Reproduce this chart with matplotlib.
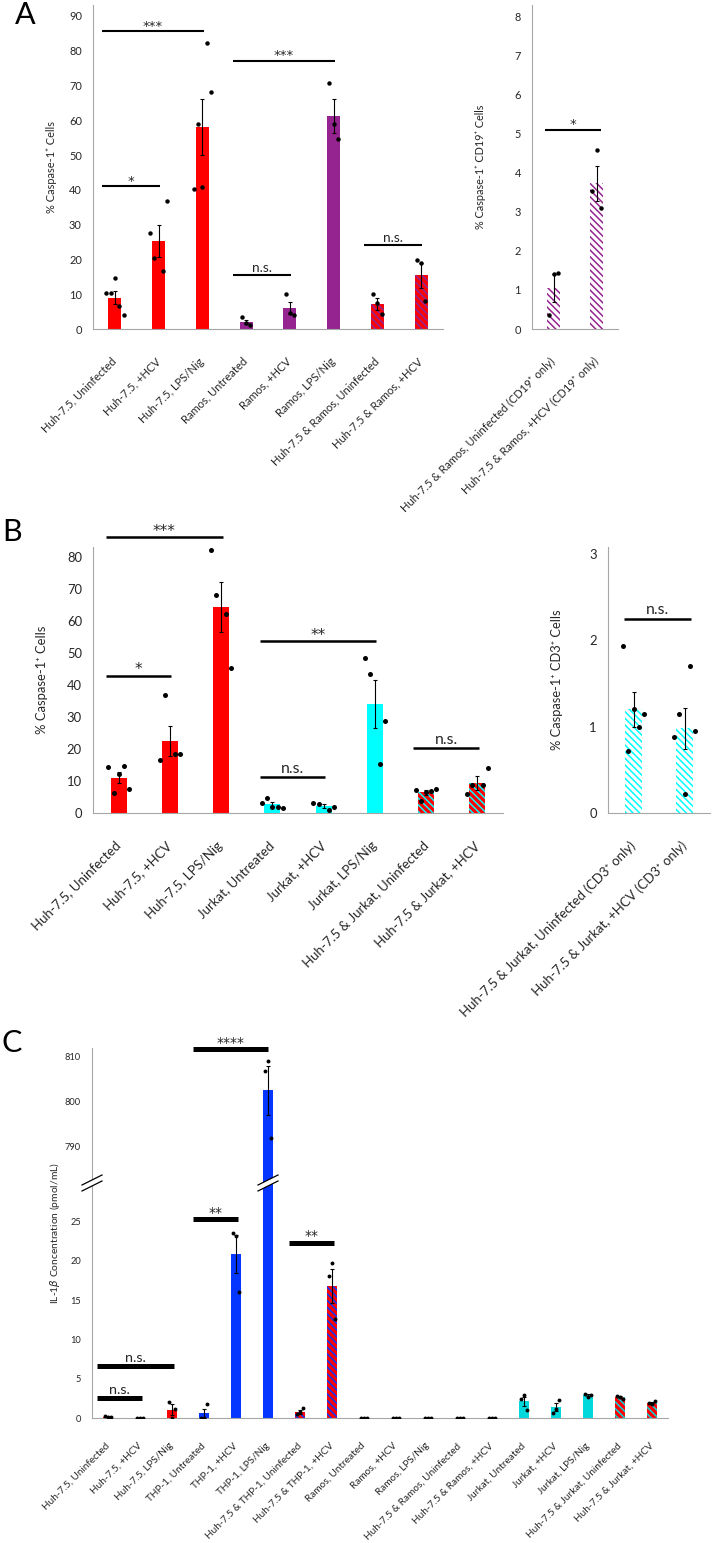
import numpy as np
import matplotlib
matplotlib.use('Agg')
import matplotlib.pyplot as plt
from matplotlib.lines import Line2D
from matplotlib.patches import Polygon

plt.rcParams['font.family'] = ['Lato', 'DejaVu Sans']
plt.rcParams['hatch.linewidth'] = 1.1

RED = '#ff0000'
PURPLE = '#952490'
CYAN = '#00ffff'
CYAN_C = '#00d8dc'
BLUE = '#0536ff'
GRID = '#a6a6a6'
TXT = '#262626'

# ---------------- data: panel A ----------------
a_labels = ['Huh-7.5, Uninfected', 'Huh-7.5, +HCV', 'Huh-7.5, LPS/Nig',
            'Ramos, Untreated', 'Ramos, +HCV', 'Ramos, LPS/Nig',
            'Huh-7.5 & Ramos, Uninfected', 'Huh-7.5 & Ramos, +HCV']
a_means = [9.0, 25.3, 58.0, 1.9, 6.0, 61.3, 7.2, 15.4]
a_sem = [1.8, 4.6, 8.1, 0.6, 1.8, 4.9, 1.8, 3.7]
a_points = [[10.3, 10.3, 14.6, 6.5, 3.9],
            [27.6, 20.3, 16.6, 36.9],
            [40.3, 58.9, 40.8, 82.1, 68.1],
            [3.4, 1.7, 1.2],
            [10.2, 4.6, 4.1],
            [70.8, 58.9, 54.5],
            [10.2, 7.5, 4.3],
            [19.9, 19.0, 8.0]]
a_sig = [(0, 2, 85.5, '***'), (0, 1, 41.0, '*'), (3, 5, 77.0, '***'),
         (3, 4, 15.5, 'n.s.'), (6, 7, 24.0, 'n.s.')]

a2_labels = ['Huh-7.5 & Ramos, Uninfected (CD19\u207a only)',
             'Huh-7.5 & Ramos, +HCV (CD19\u207a only)']
a2_means = [1.05, 3.73]
a2_sem = [0.36, 0.45]
a2_points = [[0.37, 1.40, 1.43], [3.54, 4.57, 3.10]]
a2_sig = [(0, 1, 5.09, '*')]

# ---------------- data: panel B ----------------
b_labels = ['Huh-7.5, Uninfected', 'Huh-7.5, +HCV', 'Huh-7.5, LPS/Nig',
            'Jurkat, Untreated', 'Jurkat, +HCV', 'Jurkat, LPS/Nig',
            'Huh-7.5 & Jurkat, Uninfected', 'Huh-7.5 & Jurkat, +HCV']
b_means = [11.0, 22.5, 64.3, 2.7, 2.2, 34.0, 6.4, 9.4]
b_sem = [1.7, 4.8, 7.7, 0.6, 0.5, 7.5, 0.7, 2.2]
b_points = [[14.4, 6.25, 12.1, 14.8, 7.6],
            [16.5, 36.7, 18.5, 18.3],
            [82.0, 68.0, 62.2, 45.1],
            [3.1, 4.8, 1.9, 1.9, 1.6],
            [3.2, 2.7, 1.0, 1.8],
            [48.4, 43.4, 15.3, 28.75],
            [7.3, 3.9, 6.5, 6.9, 7.6],
            [6.0, 8.75, 8.75, 14.1]]
b_sig = [(0, 2, 86.0, '***'), (0, 1, 42.8, '*'), (3, 5, 53.6, '**'),
         (3, 4, 11.1, 'n.s.'), (6, 7, 20.3, 'n.s.')]

b2_labels = ['Huh-7.5 & Jurkat, Uninfected (CD3\u207a only)',
             'Huh-7.5 & Jurkat, +HCV (CD3\u207a only)']
b2_means = [1.20, 0.98]
b2_sem = [0.20, 0.24]
b2_points = [[1.93, 0.72, 1.20, 1.00, 1.15], [0.88, 1.15, 0.22, 1.70, 0.95]]
b2_sig = [(0, 1, 2.25, 'n.s.')]

# ---------------- data: panel C ----------------
c_labels = ['Huh-7.5, Uninfected', 'Huh-7.5, +HCV', 'Huh-7.5, LPS/Nig',
            'THP-1, Untreated', 'THP-1, +HCV', 'THP-1, LPS/Nig',
            'Huh-7.5 & THP-1, Uninfected', 'Huh-7.5 & THP-1, +HCV',
            'Ramos, Untreated', 'Ramos, +HCV', 'Ramos, LPS/Nig',
            'Huh-7.5 & Ramos, Uninfected', 'Huh-7.5 & Ramos, +HCV',
            'Jurkat, Untreated', 'Jurkat, +HCV', 'Jurkat, LPS/Nig',
            'Huh-7.5 & Jurkat, Uninfected', 'Huh-7.5 & Jurkat, +HCV']
c_means = [0.15, 0.0, 1.07, 0.6, 20.9, 802.5, 0.75, 16.8,
           0.0, 0.0, 0.0, 0.0, 0.0, 2.13, 1.38, 2.9, 2.63, 1.94]
c_sem = [0.07, 0.0, 0.65, 0.55, 2.4, 5.5, 0.25, 2.2,
         0.0, 0.0, 0.0, 0.0, 0.0, 0.6, 0.5, 0.15, 0.12, 0.08]
c_points = [[0.3, 0.1, 0.1], [0, 0, 0], [2.0, 0.0, 1.2], [0, 0, 1.8],
            [23.5, 23.2, 16.0], [806.9, 809.0, 791.7], [0.5, 0.7, 1.3],
            [18.1, 19.7, 12.6], [0, 0, 0], [0, 0, 0], [0, 0, 0], [0, 0, 0],
            [0, 0, 0], [2.46, 2.97, 0.97], [0.68, 1.14, 2.33],
            [3.1, 2.63, 2.97], [2.84, 2.63, 2.42], [1.9, 1.82, 2.1]]
c_sig_top = [(3, 5, 811.7, '****')]
c_sig_bot = [(3, 4, 25.3, '**'), (6, 7, 22.3, '**'),
             (0, 2, 6.6, 'n.s.'), (0, 1, 2.5, 'n.s.')]

HATCH = '\\\\\\\\\\'

W, H = 715, 1543
fig = plt.figure(figsize=(W / 100, H / 100), dpi=100)
renderer = fig.canvas.get_renderer()


def fit(txt, px, family=None):
    # font size (pt) that makes txt about px pixels long
    kw = {'family': family} if family else {}
    t = fig.text(0, 0, txt, fontsize=10, **kw)
    w = t.get_window_extent(renderer).width
    t.remove()
    return 10 * px / w


def rect(l, t, r, b):
    return [l / W, 1 - b / H, (r - l) / W, (b - t) / H]


def draw_bars(ax, means, sem, points, faces, hatches, width, ms=3.2, cap=1.6, clip=False):
    x = np.arange(len(means))
    ax.bar(x, means, width, color=faces, linewidth=0, zorder=2)
    for xi, m, h in zip(x, means, hatches):
        if h:
            ax.bar(xi, m, width, fill=False, edgecolor=h, linewidth=0,
                   hatch=HATCH, zorder=2.5)
    ax.errorbar(x, means, yerr=sem, fmt='none', ecolor='black', elinewidth=0.8,
                capsize=cap, capthick=0.8, zorder=3)
    for xi, pts in zip(x, points):
        n = len(pts)
        slots = np.arange(n) - (n - 1) / 2
        if n % 2 == 0:
            slots = np.where(slots < 0, np.floor(slots), np.ceil(slots))
        ax.plot(xi + 0.1 * slots, pts, 'o', color='black', ms=ms, mew=0,
                zorder=4, clip_on=clip)


def draw_sig(ax, items, lw, fs, star_fs, lo=-0.3, hi=0.03, dy=1.0):
    for i, j, y, txt in items:
        x0, x1 = i + lo, j + hi
        ax.plot([x0, x1], [y, y], color='black', lw=lw, solid_capstyle='butt',
                clip_on=False, zorder=5)
        if '*' in txt:
            ax.annotate(txt, ((x0 + x1) / 2, y), xytext=(0, dy - 2), textcoords='offset points',
                        ha='center', va='bottom', fontsize=star_fs, color=TXT,
                        family='DejaVu Sans', annotation_clip=False)
        else:
            ax.annotate(txt, ((x0 + x1) / 2, y), xytext=(0, dy), textcoords='offset points',
                        ha='center', va='bottom', fontsize=fs, color=TXT,
                        annotation_clip=False)


def style(ax, labels, tick_fs, lab_fs, pad, bottom=True):
    for s in ['top', 'right']:
        ax.spines[s].set_visible(False)
    ax.spines['left'].set_color(GRID)
    ax.spines['bottom'].set_color(GRID)
    ax.spines['bottom'].set_visible(bottom)
    ax.set_xlim(-0.5, len(labels) - 0.5)
    ax.tick_params(axis='y', length=0, pad=8, labelsize=tick_fs, labelcolor=TXT)
    ax.tick_params(axis='x', length=0, pad=pad, labelsize=lab_fs, labelcolor=TXT)
    ax.set_xticks(np.arange(len(labels)))
    if bottom:
        ax.set_xticklabels(labels, rotation=45, ha='right', va='center',
                           rotation_mode='anchor')
    else:
        ax.set_xticklabels([])


fsA_tick = fit('90', 12.7)
fsA_lab = fit('Huh-7.5, Uninfected', 100)
fsA2_lab = fit('Huh-7.5 & Ramos, +HCV (CD19\u207a only)', 188)
fsA_ns = fit('n.s.', 20)
fsA_star = fit('***', 20, 'DejaVu Sans')
fsB_tick = fit('80', 15)
fsB_lab = fit('Huh-7.5, Uninfected', 120)
fsB_ns = fit('n.s.', 23)
fsB_star = fit('***', 23, 'DejaVu Sans')
fsC_tick = fit('810', 16)
fsC_lab = fit('Huh-7.5 & Jurkat, Uninfected', 130)
fsC_ns = fit('n.s.', 21)
fsC_star = fit('****', 28, 'DejaVu Sans')

# ---------------- panel A ----------------
axA = fig.add_axes(rect(93, 5.4, 443, 329))
a_faces = [RED, RED, RED, PURPLE, PURPLE, PURPLE, RED, RED]
a_hatch = [None] * 6 + [PURPLE, PURPLE]
draw_bars(axA, a_means, a_sem, a_points, a_faces, a_hatch, 0.3)
axA.set_ylim(0, 93)
axA.set_yticks(range(0, 91, 10))
style(axA, a_labels, fsA_tick, fsA_lab, 22)
draw_sig(axA, a_sig, 1.5, fsA_ns, fsA_star)
axA.set_ylabel('% Caspase-1\u207a Cells', fontsize=fit('% Caspase-1\u207a Cells', 91), color=TXT)
axA.yaxis.set_label_coords(-0.103, 0.5)

axA2 = fig.add_axes(rect(532, 5.3, 618, 329))
draw_bars(axA2, a2_means, a2_sem, a2_points, ['white', 'white'], [PURPLE, PURPLE], 0.3)
axA2.set_ylim(0, 8.28)
axA2.set_yticks(range(0, 9))
style(axA2, a2_labels, fsA_tick, fsA2_lab, 22)
draw_sig(axA2, a2_sig, 1.5, fsA_ns, fsA_star, lo=-0.2, hi=0.1)
axA2.set_ylabel('% Caspase-1\u207a CD19\u207a Cells',
                fontsize=fit('% Caspase-1\u207a CD19\u207a Cells', 125), color=TXT)
axA2.yaxis.set_label_coords(-0.535, 0.5)

# ---------------- panel B ----------------
axB = fig.add_axes(rect(93, 547, 503, 813))
b_faces = [RED, RED, RED, CYAN, CYAN, CYAN, RED, RED]
b_hatch = [None] * 6 + [CYAN, CYAN]
draw_bars(axB, b_means, b_sem, b_points, b_faces, b_hatch, 0.31, ms=3.6)
axB.set_ylim(0, 83)
axB.set_yticks(range(0, 81, 10))
style(axB, b_labels, fsB_tick, fsB_lab, 22)
draw_sig(axB, b_sig, 1.8, fsB_ns, fsB_star, lo=-0.25, hi=0.03)
axB.set_ylabel('% Caspase-1\u207a Cells', fontsize=fit('% Caspase-1\u207a Cells', 108), color=TXT)
axB.yaxis.set_label_coords(-0.11, 0.5)

axB2 = fig.add_axes(rect(608, 547, 710, 813))
draw_bars(axB2, b2_means, b2_sem, b2_points, ['white', 'white'], [CYAN, CYAN], 0.33, ms=3.6)
axB2.set_ylim(0, 3.08)
axB2.set_yticks(range(0, 4))
style(axB2, b2_labels, fsB_tick, fsB_lab, 22)
draw_sig(axB2, b2_sig, 1.8, fsB_ns, fsB_star, lo=-0.18, hi=0.12)
axB2.set_ylabel('% Caspase-1\u207a CD3\u207a Cells',
                fontsize=fit('% Caspase-1\u207a CD3\u207a Cells', 140), color=TXT)
axB2.yaxis.set_label_coords(-0.44, 0.5)

# ---------------- panel C (broken axis) ----------------
c_faces = [RED] * 3 + [BLUE] * 3 + [RED] * 2 + [PURPLE] * 3 + [RED] * 2 + [CYAN_C] * 3 + [RED] * 2
c_hatch = ([None] * 6 + [BLUE, BLUE] + [None] * 3 + [PURPLE, PURPLE]
           + [None] * 3 + [CYAN_C, CYAN_C])

axCt = fig.add_axes(rect(92, 1048, 668, 1183))
axCb = fig.add_axes(rect(92, 1183, 668, 1418))
for ax in (axCt, axCb):
    draw_bars(ax, c_means, c_sem, c_points, c_faces, c_hatch, 0.31, ms=2.8, cap=1.3, clip=True)
axCt.set_ylim(781.7, 812.0)
axCt.set_yticks([790, 800, 810])
axCb.set_ylim(0, 29.9)
axCb.set_yticks(range(0, 26, 5))
style(axCt, c_labels, fsC_tick, fsC_lab, 19, bottom=False)
style(axCb, c_labels, fsC_tick, fsC_lab, 19)
axCt.patch.set_visible(False)
draw_sig(axCt, c_sig_top, 3.6, fsC_ns, fsC_star, lo=-0.34, hi=0.0, dy=1.5)
draw_sig(axCb, c_sig_bot, 3.6, fsC_ns, fsC_star, lo=-0.34, hi=0.05, dy=1.5)
c_ylab = r'IL-1$\beta$ Concentration (pmol/mL)'
fig.text(55 / W, 1 - 1233 / H, c_ylab, rotation=90,
         ha='center', va='center', fontsize=fit(c_ylab, 141), color=TXT)

# break marks on the axis and on the tall bar
fig.canvas.draw()
for xb in (-0.5, 5):
    px, py = axCb.transData.transform((xb, 29.9))
    dx, h, g = 10, 5, 3
    white = Polygon([(px - dx, py - g - h), (px + dx, py - g + h),
                     (px + dx, py + g + h), (px - dx, py + g - h)],
                    closed=True, facecolor='white', edgecolor='none',
                    transform=None, zorder=10)
    fig.add_artist(white)
    for s in (-g, g):
        fig.add_artist(Line2D([px - dx, px + dx], [py + s - h, py + s + h],
                              color='black', lw=0.9, transform=None, zorder=11))

# panel letters
for lab, (x, y) in zip(['A', 'B', 'C'], [(25, 15), (12, 532), (12, 1043)]):
    fig.text(x / W, 1 - y / H, lab, ha='center', va='center', fontsize=22, color='black')

fig.savefig('out.png', dpi=100)
